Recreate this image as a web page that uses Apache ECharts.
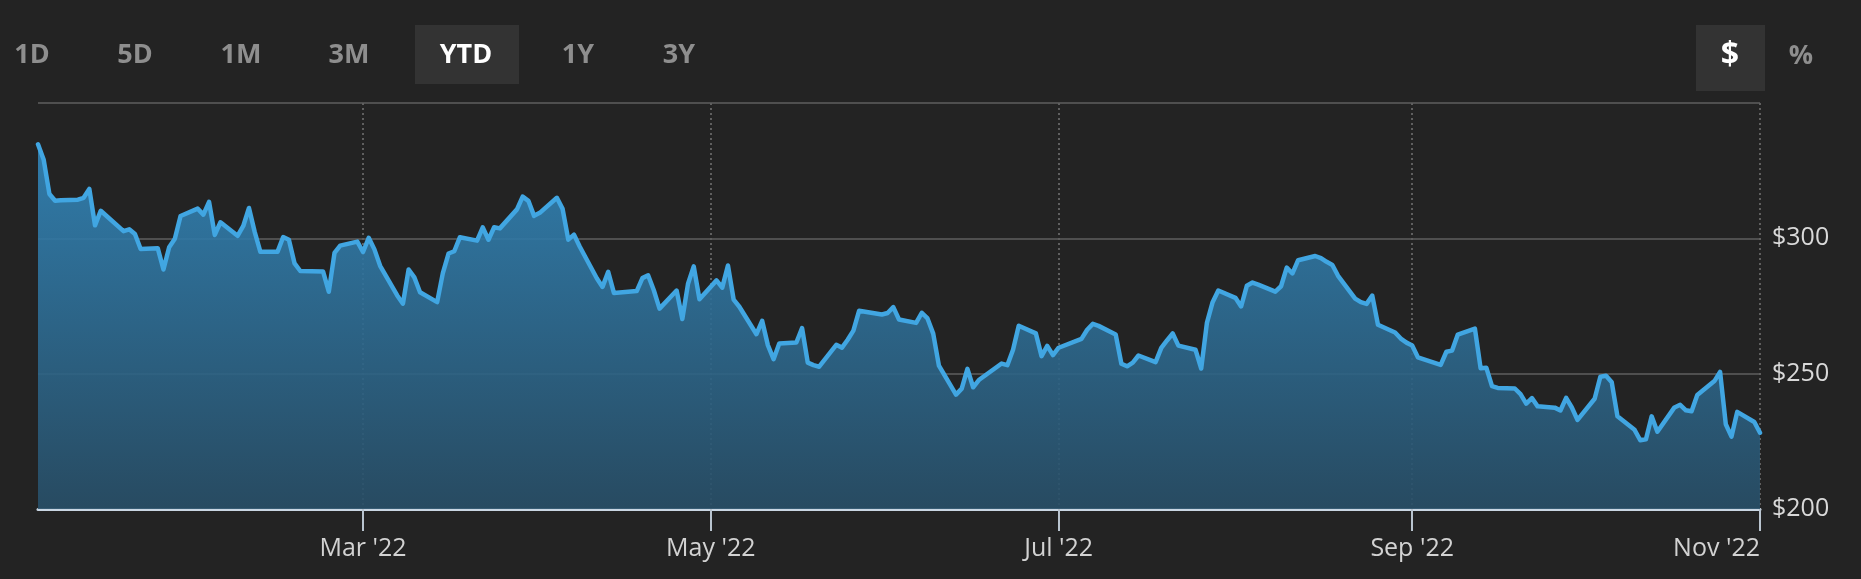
<!DOCTYPE html>
<html>
<head>
<meta charset="utf-8">
<script src="https://cdn.jsdelivr.net/npm/echarts@6/dist/echarts.min.js"></script>
<style>
html,body{margin:0;padding:0;background:#232323;}
#chart{width:1861px;height:579px;}
</style>
</head>
<body>
<div id="chart"></div>
<script>
// ---- data (closing prices, 2022, trading days) ----
const year = 2022;
const janDays  = [3,4,5,6,7,10,11,12,13,14,18,19,20,21,24,25,26,27,28,31];
const janClose = [334.75,329.01,316.38,313.88,314.04,314.27,314.98,318.27,304.80,310.20,302.65,303.33,301.60,296.03,296.37,288.49,296.71,299.84,308.26,310.98];
const febDays  = [1,2,3,4,7,8,9,10,11,14,15,16,17,18,22,23,24,25,28];
const febClose = [308.76,313.46,301.25,305.94,300.95,304.56,311.21,302.38,295.04,295.00,300.47,299.50,290.73,287.93,287.72,280.27,294.59,297.31,298.79];
const marDays  = [1,2,3,4,7,8,9,10,11,14,15,16,17,18,21,22,23,24,25,28,29,30,31];
const marClose = [294.95,300.19,295.92,289.86,278.91,275.85,288.50,285.59,280.07,276.44,287.15,294.39,295.22,300.43,299.16,304.06,299.49,304.10,303.68,310.70,315.41,313.86,308.31];
const aprDays  = [1,4,5,6,7,8,11,12,13,14,18,19,20,21,22,25,26,27,28,29];
const aprClose = [309.42,314.97,310.88,299.50,301.37,296.97,285.26,282.06,287.62,279.83,280.52,285.30,286.36,280.81,274.03,280.72,270.22,283.22,289.63,277.52];
const mayDays  = [2,3,4,5,6,9,10,11,12,13,16,17,18,19,20,23,24,25,26,27,31];
const mayClose = [284.47,281.78,289.98,277.35,274.73,264.58,269.50,260.55,255.35,261.12,261.50,266.82,254.08,253.14,252.56,260.65,259.62,262.52,265.90,273.24,271.87];
const junDays  = [1,2,3,6,7,8,9,10,13,14,15,16,17,21,22,23,24,27,28,29,30];
const junClose = [272.42,274.58,270.02,268.75,272.50,270.41,264.79,252.99,242.26,244.49,251.76,244.97,247.65,253.74,253.13,258.86,267.70,264.89,256.48,260.26,256.83];
const julDays  = [1,5,6,7,8,11,12,13,14,15,18,19,20,21,22,25,26,27,28,29];
const julClose = [259.58,262.85,266.21,268.40,267.66,264.51,253.67,252.72,254.08,256.72,254.25,259.53,262.27,264.84,260.36,258.83,251.90,268.74,276.41,280.74];
const augDays  = [1,2,3,4,5,8,9,10,11,12,15,16,17,18,19,22,23,24,25,26,29,30,31];
const augClose = [278.01,274.82,282.47,283.65,282.91,280.32,282.30,289.16,287.02,291.91,293.47,292.71,291.32,290.17,286.15,277.75,276.44,275.79,278.85,268.09,265.23,262.97,261.47];
const sepDays  = [1,2,6,7,8,9,12,13,14,15,16,19,20,21,22,23,26,27,28,29,30];
const sepClose = [260.40,256.06,253.25,258.09,258.52,264.46,266.65,251.99,252.22,245.38,244.74,244.52,242.45,238.95,240.98,237.92,237.45,236.41,241.07,237.50,232.90];
const octDays  = [3,4,5,6,7,10,11,12,13,14,17,18,19,20,21,24,25,26,27,28,31];
const octClose = [240.74,248.88,249.20,246.79,234.24,229.25,225.41,225.75,234.24,228.56,237.53,238.50,236.48,236.15,242.12,247.25,250.66,231.32,226.75,235.87,232.13];
const novDays  = [1];
const novClose = [228.17];

const monthTicks  = ['2022-03-01','2022-05-01','2022-07-01','2022-09-01','2022-11-01'];
const monthLabels = ["Mar '22","May '22","Jul '22","Sep '22","Nov '22"];
const yLabelValues = [200,250,300];
const rangeButtons = ['1D','5D','1M','3M','YTD','1Y','3Y'];
const activeRange = 'YTD';
const unitButtons = ['$','%'];
const activeUnit = '$';

// ---- build series (dates -> UTC timestamps) ----
const monthSets = [[1,janDays,janClose],[2,febDays,febClose],[3,marDays,marClose],[4,aprDays,aprClose],
  [5,mayDays,mayClose],[6,junDays,junClose],[7,julDays,julClose],[8,augDays,augClose],
  [9,sepDays,sepClose],[10,octDays,octClose],[11,novDays,novClose]];
const data = [];
monthSets.forEach(function(s){
  s[1].forEach(function(d,i){ data.push([Date.UTC(year, s[0]-1, d), s[2][i]]); });
});
const tickValues = monthTicks.map(function(t){ return Date.parse(t + 'T00:00:00Z'); });
const labelByTick = {};
tickValues.forEach(function(t,i){ labelByTick[t] = monthLabels[i]; });

// ---- layout (styling only) ----
const rangeX = [32,135,241,349,466,578,679];
const unitX = [1730,1801];
const font = '"Open Sans", "DejaVu Sans", sans-serif';

const graphic = [];
graphic.push({type:'rect', silent:true, shape:{x:415,y:25,width:104,height:59}, style:{fill:'#333333'}});
graphic.push({type:'rect', silent:true, shape:{x:1696,y:25,width:69,height:66}, style:{fill:'#333333'}});
rangeButtons.forEach(function(t,i){
  graphic.push({type:'text', silent:true, style:{text:t, x:rangeX[i], y:55, align:'center', verticalAlign:'middle',
    fontSize:27, fontWeight:'bold', fontFamily:font, fill: t===activeRange ? '#ffffff' : '#8e8e8e'}});
});
unitButtons.forEach(function(t,i){
  graphic.push({type:'text', silent:true, style:{text:t, x:unitX[i], y:56, align:'center', verticalAlign:'middle',
    fontSize:t==='$'?32:27, fontWeight:'bold', fontFamily:font, fill: t===activeUnit ? '#ffffff' : '#8e8e8e'}});
});

const chart = echarts.init(document.getElementById('chart'), null, {renderer:'canvas'});
chart.setOption({
  backgroundColor:'#232323',
  animation:false,
  grid:{left:38, right:101, top:103, bottom:70, containLabel:false},
  xAxis:{
    type:'value',
    min:data[0][0], max:data[data.length-1][0],
    axisLine:{show:true, lineStyle:{color:'#c9d6e3', width:3}},
    axisTick:{show:true, customValues:tickValues, length:22, lineStyle:{color:'#b9c4cf', width:2}},
    axisLabel:{customValues:tickValues, color:'#d2d2d2', fontSize:25, fontFamily:font, margin:27,
      alignMaxLabel:'right', showMaxLabel:true,
      formatter:function(v){ return labelByTick[v] || ''; }},
    splitLine:{show:true, lineStyle:{color:'#5f5f5f', width:2, type:[2,3]}}
  },
  yAxis:{
    type:'value', position:'right', min:200, max:350, interval:50,
    axisLine:{show:false}, axisTick:{show:false},
    axisLabel:{color:'#d9d9d9', fontSize:25, fontFamily:font, margin:12,
      formatter:function(v){ return yLabelValues.indexOf(v)>=0 ? '$'+v : ''; }},
    splitLine:{show:true, lineStyle:{color:'#4f4f4f', width:2}}
  },
  series:[{
    type:'line', data:data, showSymbol:false, symbol:'none', silent:true,
    lineStyle:{color:'#41a6e2', width:4.5, join:'round', cap:'round'},
    areaStyle:{opacity:0.9, color:new echarts.graphic.LinearGradient(0,0,0,1,[
      {offset:0,color:'#3286ba'},{offset:1,color:'#284f68'}])}
  }],
  graphic:graphic
});
</script>
</body>
</html>
